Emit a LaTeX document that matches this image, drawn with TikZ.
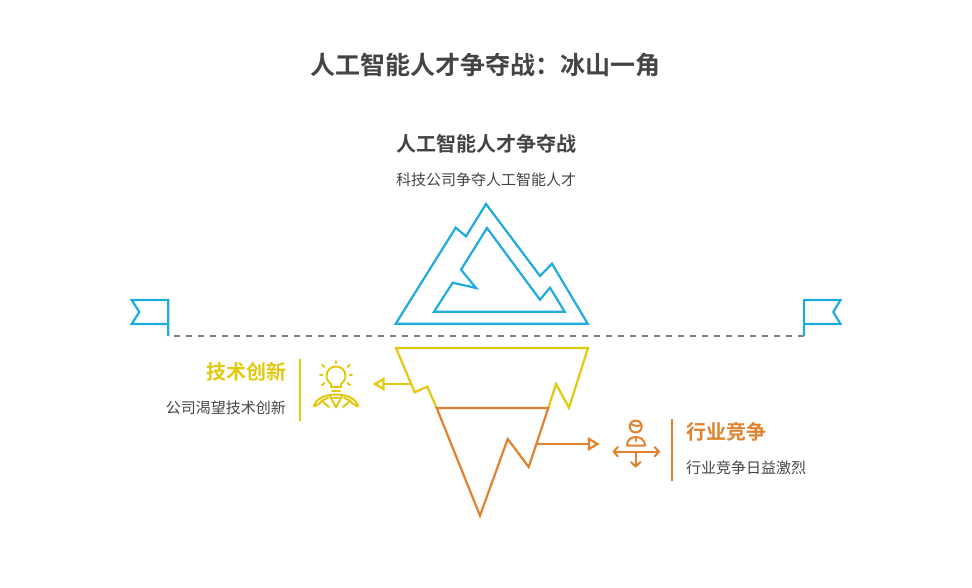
\documentclass[tikz,border=0pt]{standalone}
\usepackage{fontspec}
\setmainfont{Noto Sans CJK SC}[BoldFont={Noto Sans CJK SC Bold}]
\usetikzlibrary{arrows.meta}
\definecolor{cblue}{HTML}{1DACDD}
\definecolor{cyel}{HTML}{E2C90F}
\definecolor{corg}{HTML}{E0812E}
\definecolor{ctxt}{HTML}{444444}
\definecolor{cdash}{HTML}{808080}
\tikzset{
 x=1pt,y=-1pt,
 lw/.style={line width=2.2pt,line join=miter,miter limit=4},
 blueline/.style={lw,draw=cblue},
 yelline/.style={lw,draw=cyel},
 orgline/.style={lw,draw=corg},
 thin icon/.style={line width=2pt,line cap=round,line join=round},
 txt/.style={inner sep=0pt,text=ctxt},
 titletxt/.style={txt,font=\fontsize{25}{25}\selectfont\bfseries},
 headtxt/.style={txt,font=\fontsize{20}{20}\selectfont\bfseries},
 subtxt/.style={txt,font=\fontsize{15}{15}\selectfont},
}
\begin{document}
\begin{tikzpicture}
\useasboundingbox (0,0) rectangle (972,588);
% texts
\node[titletxt] (title) at (485.5,65) {人工智能人才争夺战：冰山一角};
\node[headtxt] (head) at (486,144) {人工智能人才争夺战};
\node[subtxt] (sub) at (486,180) {科技公司争夺人工智能人才};
\node[headtxt,anchor=east,text=cyel] (lefthead) at (286.5,372) {技术创新};
\node[subtxt,anchor=east] (leftsub) at (286,408) {公司渴望技术创新};
\node[headtxt,anchor=west,text=corg] (righthead) at (686,432) {行业竞争};
\node[subtxt,anchor=west] (rightsub) at (686,468) {行业竞争日益激烈};
% water line and flags
\coordinate (poleL) at (168.3,336);
\coordinate (poleR) at (804,336);
\draw[line width=2.2pt,draw=cdash,dash pattern=on 6pt off 6pt,dash phase=-6pt] (poleL) -- (poleR);
\draw[blueline] (poleL) -- (168.3,300) -- (131.7,300) -- (139.3,312) -- (131.7,324) -- (168.3,324);
\draw[blueline] (poleR) -- (804,300) -- (840.5,300) -- (833.3,312) -- (840.5,324) -- (804,324);
% mountain
\draw[blueline] (395.7,323.7) -- (455.7,227.7) -- (466,236.3) -- (486,204) -- (540,276) -- (552,263.7) -- (587.7,323.7) -- cycle;
\draw[blueline] (434,311.7) -- (452.7,282.7) -- (476,288) -- (461,269.7) -- (487,228) -- (540,299.7) -- (550,287.7) -- (564.7,311.7) -- cycle;
% iceberg
\draw[yelline] (436.7,408) -- (427.3,386.7) -- (414.7,392.3) -- (396,348) -- (588,348) -- (569,407.7) -- (556,384) -- (548.3,408);
\draw[orgline] (436.7,408) -- (548.3,408) -- (528.7,467) -- (507.7,439) -- (480,515.7) -- cycle;
% arrows
\coordinate (yelfrom) at (411,384);
\coordinate (yelbase) at (383.5,384);
\coordinate (orgfrom) at (536.5,444);
\coordinate (orgbase) at (589,444);
\draw[yelline] (yelfrom) -- (yelbase);
\draw[yelline] (383.5,379) -- (375,384) -- (383.5,389) -- cycle;
\draw[orgline] (orgfrom) -- (orgbase);
\draw[orgline] (589,439) -- (597.5,444) -- (589,449) -- cycle;
% dividers
\draw[line width=2.2pt,draw=cyel] (300,359) -- (300,421);
\draw[line width=2.2pt,draw=corg] (672,419) -- (672,481);
% bulb icon
\begin{scope}[thin icon,draw=cyel]
\draw (331,387) -- (331,384) .. controls (329,382.5) and (326.5,380) .. (326.5,376) .. controls (326.5,370) and (331,366.5) .. (336,366.5) .. controls (341,366.5) and (345.5,370) .. (345.5,376) .. controls (345.5,380) and (343,382.5) .. (341,384) -- (341,387) -- cycle;
\draw (332,391) -- (340,391);
\draw (336,361) -- (336,363);
\draw (322,365) -- (324.5,367);
\draw (350,365) -- (347.5,367);
\draw (320,375) -- (322.5,375);
\draw (352,375) -- (349.5,375);
\draw (322,385) -- (324.5,383);
\draw (350,385) -- (347.5,383);
\draw (314,406.5) .. controls (315,399) and (325,394.5) .. (336,394.5) .. controls (347,394.5) and (357,399) .. (358,406.5);
\draw (314,406.5) -- (320,403) .. controls (321,401) and (324,399) .. (328,398);
\draw (358,406.5) -- (352,403) .. controls (351,401) and (348,399) .. (344,398);
\draw (323,402) -- (329,407) ;
\draw (349,402) -- (343,407);
\draw (330,396) -- (336,407.5) -- (342,396);
\draw (333,398) -- (339,398);
\end{scope}
% person icon
\begin{scope}[thin icon,draw=corg]
\draw (635.7,426.5) circle (6);
\draw (630.5,423.5) .. controls (634,426) and (637,426.5) .. (641.5,425);
\draw (627,445.5) .. controls (627,440) and (631,437) .. (635.7,437) .. controls (640.5,437) and (645,440) .. (645,445.5) -- cycle;
\draw (635.7,437) -- (635.7,441);
\draw (613.5,451.7) -- (659,451.7);
\draw (618,447) -- (613.5,451.7) -- (618,456.5);
\draw (654.5,447) -- (659,451.7) -- (654.5,456.5);
\draw (635.7,451.7) -- (635.7,466.5);
\draw (631,462) -- (635.7,466.5) -- (640.5,462);
\end{scope}
\end{tikzpicture}
\end{document}
